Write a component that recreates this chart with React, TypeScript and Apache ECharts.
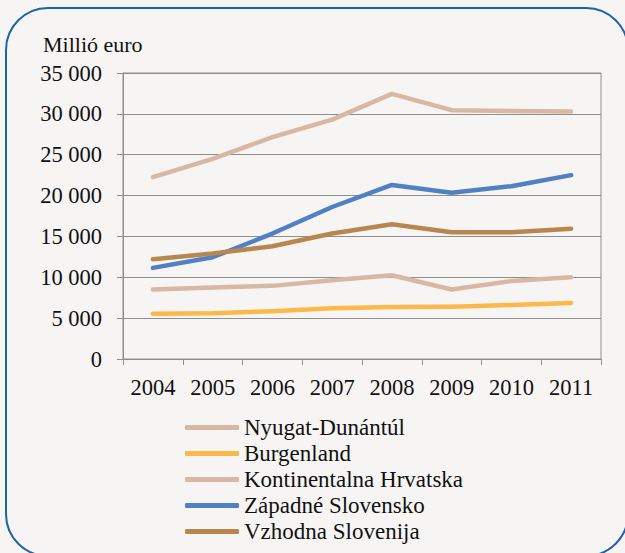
import React, { useEffect, useRef } from "react";
import * as echarts from "echarts";

const years = ["2004", "2005", "2006", "2007", "2008", "2009", "2010", "2011"];
const seriesNames = [
  "Nyugat-Dunántúl",
  "Burgenland",
  "Kontinentalna Hrvatska",
  "Západné Slovensko",
  "Vzhodna Slovenija",
];
const nyugatDunantul = [8500, 8750, 8950, 9650, 10250, 8500, 9550, 10000];
const burgenland = [5550, 5600, 5850, 6200, 6350, 6400, 6600, 6850];
const kontinentalnaHrvatska = [22250, 24500, 27150, 29300, 32450, 30450, 30350, 30300];
const zapadneSlovensko = [11150, 12450, 15350, 18600, 21300, 20350, 21150, 22500];
const vzhodnaSlovenija = [12200, 12900, 13800, 15350, 16500, 15500, 15500, 15950];
const seriesValues = [
  nyugatDunantul,
  burgenland,
  kontinentalnaHrvatska,
  zapadneSlovensko,
  vzhodnaSlovenija,
];
const seriesColors = ["#d8b8a2", "#fdb84a", "#d8b8a2", "#5280c4", "#b8864f"];
const yTicks = { min: 0, max: 35000, interval: 5000 };
const yAxisTitle = "Millió euro";

const FONT = "Liberation Serif, serif";

function fmt(v: number): string {
  return String(v).replace(/\B(?=(\d{3})+(?!\d))/g, " ");
}

export default function App() {
  const ref = useRef<HTMLDivElement>(null);
  useEffect(() => {
    document.body.style.margin = "0";
    if (!ref.current) return;
    const chart = echarts.init(ref.current, null, { renderer: "svg" });
    chart.setOption({
      animation: false,
      backgroundColor: "#f6f5f3",
      textStyle: { fontFamily: FONT },
      grid: {
        left: 123,
        right: 24,
        top: 73,
        bottom: 194,
        show: true,
        borderColor: "#8e8e8e",
        borderWidth: 1,
        backgroundColor: "transparent",
      },
      legend: {
        orient: "vertical",
        left: 185,
        top: 416,
        padding: 0,
        icon: "roundRect",
        itemWidth: 54,
        itemHeight: 5,
        itemGap: 3,
        data: seriesNames,
        textStyle: {
          fontFamily: FONT,
          fontSize: 23,
          color: "#111",
          lineHeight: 23,
        },
      },
      xAxis: {
        type: "category",
        data: years,
        boundaryGap: true,
        axisLine: { lineStyle: { color: "#8e8e8e", width: 1 } },
        axisTick: { show: true, length: 6, lineStyle: { color: "#8e8e8e" } },
        axisLabel: {
          fontFamily: FONT,
          fontSize: 22.5,
          color: "#111",
          margin: 17,
        },
        splitLine: { show: false },
      },
      yAxis: {
        type: "value",
        min: yTicks.min,
        max: yTicks.max,
        interval: yTicks.interval,
        axisLine: { show: true, lineStyle: { color: "#8e8e8e", width: 1 } },
        axisTick: { show: true, length: 6, lineStyle: { color: "#8e8e8e" } },
        axisLabel: {
          fontFamily: FONT,
          fontSize: 22.5,
          color: "#111",
          margin: 21,
          formatter: (v: number) => fmt(v),
        },
        splitLine: { show: true, lineStyle: { color: "#8e8e8e", width: 1 } },
      },
      graphic: [
        {
          type: "rect",
          silent: true,
          z: 100,
          shape: { x: 6, y: 8, width: 622, height: 548, r: 42 },
          style: { fill: "none", stroke: "#1f62a6", lineWidth: 2 },
        },
        {
          type: "text",
          left: 43,
          top: 33,
          style: {
            text: yAxisTitle,
            fontFamily: FONT,
            fontSize: 22,
            fill: "#111",
          },
        },
      ],
      series: seriesNames.map((name, i) => ({
        name,
        type: "line",
        data: seriesValues[i],
        symbol: "none",
        color: seriesColors[i],
        lineStyle: { width: 4.5, color: seriesColors[i], cap: "round", join: "round" },
        z: 3 + i,
      })),
    });
    return () => chart.dispose();
  }, []);
  return (
    <div
      ref={ref}
      style={{ position: "absolute", left: 0, top: 0, width: 625, height: 553 }}
    />
  );
}
